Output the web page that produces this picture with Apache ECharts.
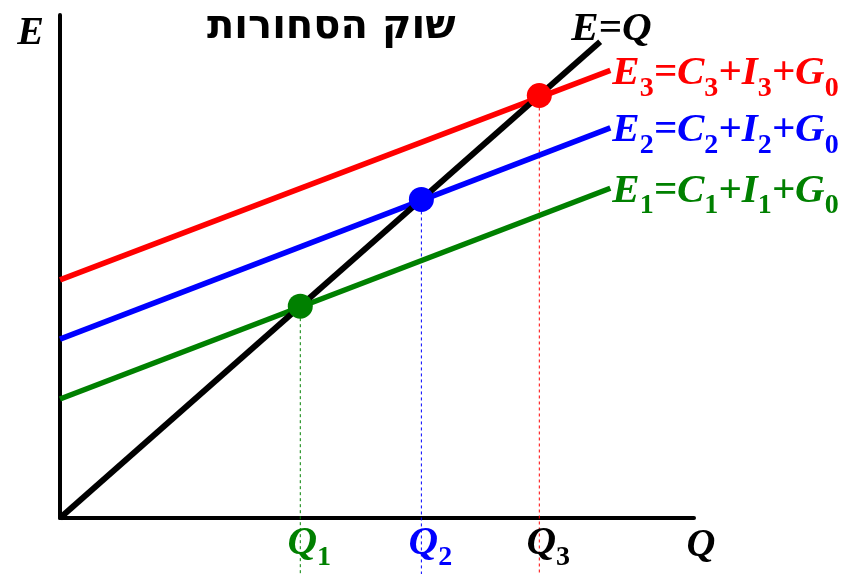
<!DOCTYPE html>
<html>
<head>
<meta charset="utf-8">
<script src="https://cdn.jsdelivr.net/npm/echarts@6/dist/echarts.min.js"></script>
<style>
  html, body { margin: 0; background: #fff; }
  #main { width: 848px; height: 574px; }
</style>
</head>
<body>
<div id="main"></div>
<script>
// equilibrium output of each spending line (E1, E2, E3)
var equilibriumQ = [37.9, 57.0, 75.6];
// spending lines: value at Q = 0 and at the right end
var subscripts = ['1', '2', '3'];
var intercepts = [21.3, 32.0, 42.6];
var lineEndQ = 86.8;
var lineEndE = [59.0, 69.8, 80.1];
// 45 degree line E = Q
var diagonalEnd = 85.2;
// dotted guides run a little below the Q axis
var guideBottom = -10;

var lineColors = ['#008000', '#0000ff', '#ff0000'];
var qLabelColors = ['#008000', '#0000ff', '#000000'];
var serif = 'Liberation Serif';

function rich(color) {
  return {
    m: { fontFamily: serif, fontStyle: 'italic', fontWeight: 'bold', fontSize: 41, color: color, lineHeight: 58, verticalAlign: 'middle' },
    s: { fontFamily: serif, fontWeight: 'bold', fontSize: 28, color: color, lineHeight: 28, verticalAlign: 'bottom' }
  };
}

var myChart = echarts.init(document.getElementById('main'));

var series = [];

// dotted guides from each equilibrium down past the axis
equilibriumQ.forEach(function (q, i) {
  series.push({
    type: 'line',
    data: [[q, q], [q, guideBottom]],
    showSymbol: false,
    clip: false,
    silent: true,
    z: 1,
    lineStyle: { color: lineColors[i], width: 1, type: [3, 3] }
  });
});

// spending lines
intercepts.forEach(function (a, i) {
  var k = subscripts[i];
  series.push({
    type: 'line',
    data: [[0, a], [lineEndQ, lineEndE[i]]],
    showSymbol: false,
    z: 2,
    lineStyle: { color: lineColors[i], width: 5.5 },
    endLabel: {
      show: true,
      distance: 2,
      offset: [0, 3],
      formatter: '{m|E}{s|' + k + '}{m|=C}{s|' + k + '}{m|+I}{s|' + k + '}{m|+G}{s|0}',
      rich: rich(lineColors[i])
    }
  });
});

// E = Q
series.push({
  type: 'line',
  data: [[0, 0], [diagonalEnd, diagonalEnd]],
  showSymbol: false,
  z: 3,
  lineStyle: { color: '#000', width: 6 },
  endLabel: {
    show: true,
    offset: [-37, -12],
    formatter: '{m|E=Q}',
    rich: rich('#000')
  }
});

// equilibrium dots
series.push({
  type: 'scatter',
  symbolSize: 25,
  z: 5,
  itemStyle: { opacity: 1 },
  data: equilibriumQ.map(function (q, i) {
    return { value: [q, q], itemStyle: { color: lineColors[i], opacity: 1 } };
  })
});

// Q1, Q2, Q3 under the axis
series.push({
  type: 'scatter',
  symbolSize: 0,
  z: 5,
  itemStyle: { opacity: 1 },
  data: equilibriumQ.map(function (q, i) {
    return {
      value: [q, 0],
      label: {
        show: true,
        position: 'inside',
        offset: [9, 25],
        opacity: 1,
        formatter: '{m|Q}{s|' + subscripts[i] + '}',
        rich: rich(qLabelColors[i])
      }
    };
  })
});

myChart.setOption({
  animation: false,
  title: {
    text: 'שוק הסחורות',
    left: 202,
    top: 3,
    textStyle: { fontFamily: 'DejaVu Sans', fontWeight: 'bold', fontSize: 40, color: '#000' }
  },
  grid: { left: 60, right: 154, top: 15, bottom: 56, outerBoundsMode: 'none' },
  xAxis: {
    type: 'value',
    min: 0,
    max: 100,
    name: 'Q',
    nameLocation: 'end',
    nameGap: 7,
    nameTextStyle: { fontFamily: serif, fontStyle: 'italic', fontWeight: 'bold', fontSize: 40, color: '#000', align: 'center', verticalAlign: 'top', padding: [8, 0, 0, 0] },
    axisLine: { show: true, lineStyle: { color: '#000', width: 4 } },
    axisTick: { show: false },
    axisLabel: { show: false },
    splitLine: { show: false }
  },
  yAxis: {
    type: 'value',
    min: 0,
    max: 90,
    name: 'E',
    nameLocation: 'end',
    nameGap: -19,
    nameTextStyle: { fontFamily: serif, fontStyle: 'italic', fontWeight: 'bold', fontSize: 40, color: '#000', align: 'right', verticalAlign: 'middle', padding: [0, 16, 0, 0] },
    axisLine: { show: true, lineStyle: { color: '#000', width: 4 } },
    axisTick: { show: false },
    axisLabel: { show: false },
    splitLine: { show: false }
  },
  series: series
});
</script>
</body>
</html>
